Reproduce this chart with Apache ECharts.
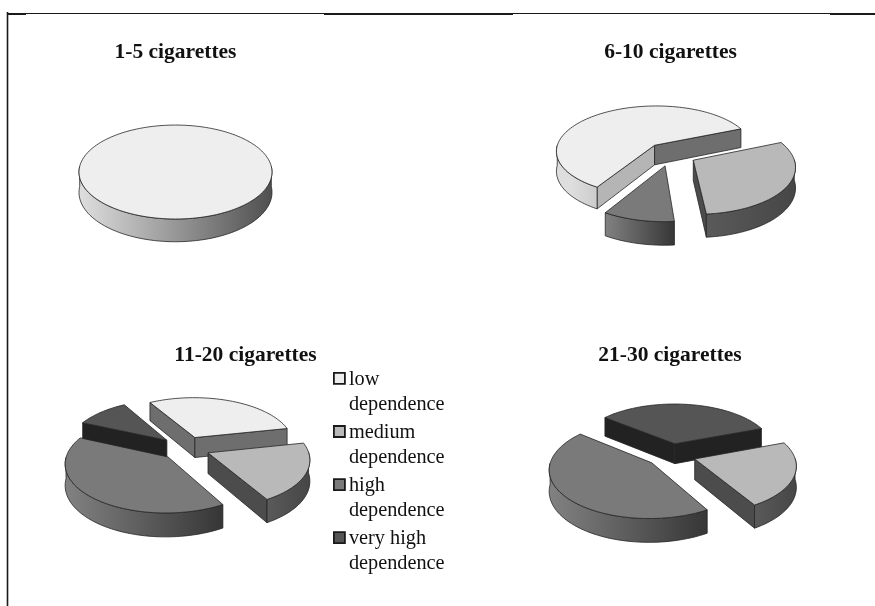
<!DOCTYPE html>
<html>
<head>
<meta charset="utf-8">
<style>html,body{margin:0;padding:0;background:#fff}#chart{width:875px;height:606px}</style>
<script src="https://cdn.jsdelivr.net/npm/echarts@6/dist/echarts.min.js"></script>
</head>
<body>
<div id="chart"></div>
<script>
// Share of smokers in each dependence class, per daily cigarette band (percent).
const panels = ['1-5 cigarettes', '6-10 cigarettes', '11-20 cigarettes', '21-30 cigarettes'];
const categories = ['low dependence', 'medium dependence', 'high dependence', 'very high dependence'];
const lowDependence = [100, 60, 30, 0];
const mediumDependence = [0, 30, 20, 22.2];
const highDependence = [0, 10, 40, 44.4];
const veryHighDependence = [0, 0, 10, 33.3];
const seriesValues = [lowDependence, mediumDependence, highDependence, veryHighDependence];

// Placement of each tilted pie: apex centre, radii, rim depth, explode distance, first-slice angle.
const layout = [
  { cx: 175.5, cy: 166.4, R: 95.8, S: 46.3, D: 20, e: 0, start: 90 },
  { cx: 671, cy: 154, R: 99.5, S: 46, D: 20, e: 0.257, start: 239 },
  { cx: 185, cy: 448, R: 99.5, S: 47, D: 20.5, e: 0.25, start: 120 },
  { cx: 671, cy: 455, R: 99.5, S: 47, D: 20.5, e: 0.25, start: 20.5 }
];
const titlePos = [[175.5, 52], [670.5, 52], [245.5, 355], [670, 355]];
const perspective = 0.12;

const topColor = ['#eeeeee', '#b9b9b9', '#7a7a7a', '#555555'];
const rimStops = [['#dedede', '#505050'], ['#5a5a5a', '#464646'], ['#828282', '#363636'], ['#333333', '#222222']];
const cutColor = ['#6e6e6e', '#4c4c4c', '#3c3c3c', '#222222'];
const lightCutColor = ['#b5b5b5', '#4c4c4c', '#3c3c3c', '#222222'];
const edge = { stroke: '#262626', lineWidth: 0.8, lineJoin: 'round' };

function project(l, wx, wy, wz) {
  const w = 1 + perspective * wy;
  return [l.cx + l.R * wx / w, l.cy - l.S * wy / w + l.D * wz / w];
}

function renderSlice(params, api) {
  const cat = params.seriesIndex, pie = params.dataIndex;
  const value = api.value(0);
  if (!value) return null;
  const l = layout[pie];
  let before = 0;
  for (let i = 0; i < cat; i++) before += seriesValues[i][pie];
  const rad = Math.PI / 180;
  const a1 = l.start - before * 3.6;
  const a2 = a1 - value * 3.6;
  const whole = value >= 100;
  const mid = (a1 + a2) / 2 * rad;
  const ox = whole ? 0 : l.e * Math.cos(mid);
  const oy = whole ? 0 : l.e * Math.sin(mid);

  const steps = Math.max(8, Math.ceil(value * 1.6));
  const topArc = [], frontTop = [], frontBottom = [];
  for (let i = 0; i <= steps; i++) {
    const t = (a1 + (a2 - a1) * i / steps) * rad;
    const x = ox + Math.cos(t), y = oy + Math.sin(t);
    topArc.push(project(l, x, y, 0));
    if (Math.sin(t) < 0.02) {
      frontTop.push(project(l, x, y, 0));
      frontBottom.push(project(l, x, y, 1));
    }
  }

  const order = Math.round(project(l, ox, oy, 0)[1]) * 10;
  const children = [];

  // Flat faces left by the wedge cut, only those turned towards the viewer.
  if (!whole) {
    [[a1, a1 + 90], [a2, a2 - 90]].forEach(function (pair) {
      const nx = Math.cos(pair[1] * rad), ny = Math.sin(pair[1] * rad);
      if (ny >= 0) return;
      const px = ox + Math.cos(pair[0] * rad), py = oy + Math.sin(pair[0] * rad);
      children.push({
        type: 'polygon', z2: order,
        shape: { points: [project(l, ox, oy, 0), project(l, px, py, 0), project(l, px, py, 1), project(l, ox, oy, 1)] },
        style: Object.assign({ fill: nx > 0.6 ? lightCutColor[cat] : cutColor[cat] }, edge)
      });
    });
  }

  // Curved rim along the front of the slice.
  if (frontTop.length > 1) {
    const left = project(l, -1, 0, 0)[0], right = project(l, 1, 0, 0)[0];
    const stops = [{ offset: 0, color: rimStops[cat][0] }, { offset: 1, color: rimStops[cat][1] }];
    const fill = cat === 0
      ? new echarts.graphic.LinearGradient(left, 0, right, 0, stops, true)
      : new echarts.graphic.LinearGradient(0, 0, 1, 0, stops);
    children.push({
      type: 'polygon', z2: order + 1,
      shape: { points: frontTop.concat(frontBottom.slice().reverse()) },
      style: Object.assign({ fill: fill }, edge)
    });
  }

  const outline = whole ? topArc : [project(l, ox, oy, 0)].concat(topArc);
  children.push({
    type: 'polygon', z2: order + 2,
    shape: { points: outline },
    style: Object.assign({ fill: topColor[cat] }, edge)
  });
  return { type: 'group', children: children };
}

const chart = echarts.init(document.getElementById('chart'), null, { renderer: 'canvas' });
chart.setOption({
  animation: false,
  backgroundColor: '#ffffff',
  title: panels.map(function (text, i) {
    return {
      text: text, left: titlePos[i][0], top: titlePos[i][1] - 13, textAlign: 'center', padding: 0,
      textStyle: { fontFamily: 'Liberation Serif', fontWeight: 'bold', fontSize: 21.5, color: '#111111', lineHeight: 26 }
    };
  }),
  legend: {
    orient: 'vertical', left: 333, top: 366, padding: 0,
    itemWidth: 11, itemHeight: 50, itemGap: 1.3, selectedMode: false,
    icon: 'path://M0 0h.01M0 6h11v11h-11zM0 50h.01',
    itemStyle: { borderColor: '#1a1a1a', borderWidth: 1.8 },
    formatter: function (name) { return name.replace(' dependence', '\ndependence'); },
    data: categories,
    textStyle: { fontFamily: 'Liberation Serif', fontSize: 20.3, color: '#111111', lineHeight: 25, padding: [0, 0, 0, -1] }
  },
  graphic: [
    { type: 'line', shape: { x1: 7.5, y1: 12, x2: 7.5, y2: 606 }, style: { stroke: '#1a1a1a', lineWidth: 1.6 } },
    { type: 'line', shape: { x1: 7, y1: 13.5, x2: 875, y2: 13.5 }, style: { stroke: '#1a1a1a', lineWidth: 1 } },
    { type: 'line', shape: { x1: 7, y1: 14, x2: 26, y2: 14 }, style: { stroke: '#1a1a1a', lineWidth: 2 } },
    { type: 'line', shape: { x1: 324, y1: 14, x2: 513, y2: 14 }, style: { stroke: '#1a1a1a', lineWidth: 2 } },
    { type: 'line', shape: { x1: 830, y1: 14, x2: 875, y2: 14 }, style: { stroke: '#1a1a1a', lineWidth: 2 } }
  ],
  series: categories.map(function (name, c) {
    return {
      type: 'custom', name: name, coordinateSystem: 'none',
      itemStyle: { color: topColor[c] },
      renderItem: renderSlice,
      data: seriesValues[c].map(function (v) { return [v]; })
    };
  })
});
</script>
</body>
</html>
